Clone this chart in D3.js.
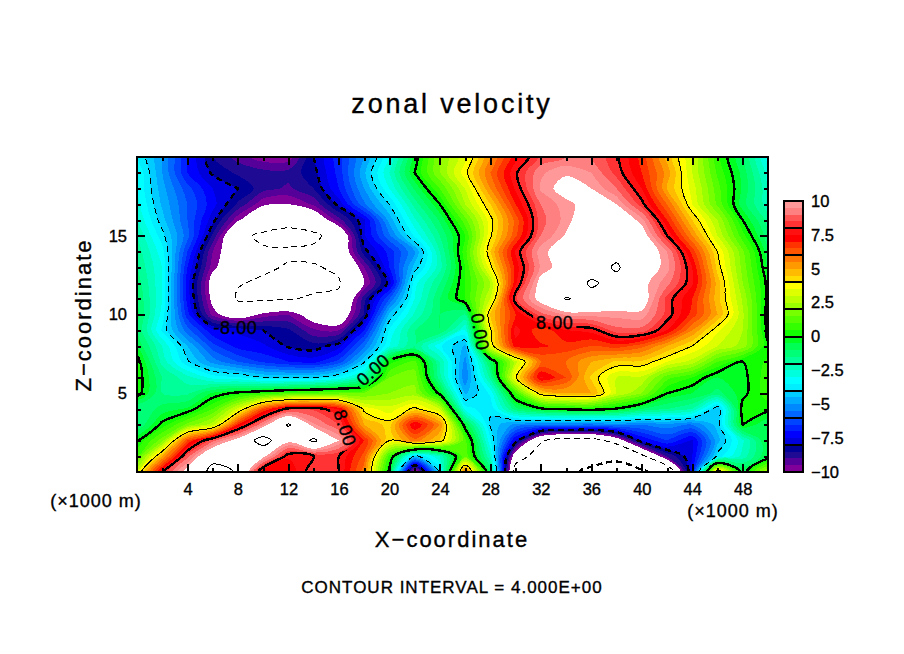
<!DOCTYPE html>
<html>
<head>
<meta charset="utf-8">
<script src="https://cdn.jsdelivr.net/npm/d3@7"></script>
<style>
  html, body {margin: 0; background: #fff;}
  text {font-family: "Liberation Sans", sans-serif; fill: #000; stroke: #000; stroke-width: 0.35;}
</style>
</head>
<body>
<svg id="chart" width="904" height="654"></svg>
<script>
// DATA ------------------------------------------------------------------------
// zonal velocity, x = 0, 2, ... 50 (x1000 m), one array per height z (x1000 m)
var xCoords = d3.range(0, 51, 2);
var uZ20 = [-3.5,-5,-7,-8.5,-9.2,-9.8,-9.8,-8,-6.7,-5,-3,-0.3,2,3.3,5.5,7.3,8.6,9,9,8.1,6.8,4.8,3,0.6,-1,-3.2];
var uZ19 = [-3,-5,-7,-8.1,-8.6,-8.8,-8.8,-8.2,-6.8,-4.6,-2.5,0,2,3.8,6,7.9,9.4,9.9,9.5,8.3,7,5.3,3,0.9,-0.7,-2.7];
var uZ18 = [-3,-4.8,-6.3,-7.5,-8,-8.8,-9.1,-8.5,-7,-5,-3,-0.9,1,3,5.5,7.6,9.6,10.4,10,9,7.5,5,3.3,1.2,-0.6,-2.4];
var uZ17 = [-2.8,-4.6,-6,-7.3,-8.6,-9.9,-10,-9.4,-7.8,-5.6,-4,-1.8,0,2.5,4.5,7,9,9.8,10.4,10,8.2,6,3.5,1.4,-0.8,-2.3];
var uZ16 = [-2.5,-4.3,-6,-7.8,-9.9,-11,-11.5,-11,-9.2,-7.6,-4.8,-2.6,-0.9,1.3,3.8,6.2,8.8,9.7,11,11,9.7,7,4.5,2.5,0,-1.7];
var uZ15 = [-2,-3.8,-5.8,-8.6,-11.6,-12.3,-12.5,-12.3,-11.3,-7.6,-5.6,-3.4,-1.5,0.5,3.9,6.4,9,10.1,11,11.5,10.6,8,5.5,3,0.7,-1.3];
var uZ14 = [-1.7,-3.3,-6.5,-9.5,-11,-11.8,-11.8,-11.7,-11.2,-8.2,-6.8,-5,-2,0.8,4.5,7.6,9.8,10.5,11,11.5,11,9.5,6.8,4,1.6,-0.8];
var uZ13 = [-1.5,-3,-7,-9.8,-11,-11.8,-12.1,-12.1,-11.8,-9.5,-7,-4.3,-2.2,0.5,3.8,7.2,9.6,10.5,11.3,12.2,10.8,9.7,7.5,4.3,1.8,-0.5];
var uZ12 = [-1.2,-3,-7.3,-10.5,-11.9,-12.2,-12.5,-12.4,-12.1,-10,-7.8,-3.2,-1.5,0.5,2.5,7.4,10.4,11,12.2,11.5,10.3,9.2,7.6,4.8,2,-0.2];
var uZ11 = [-1,-3,-7.2,-10.3,-12.2,-12.3,-12.1,-11.8,-11.8,-8.7,-6,-3,-1,0.5,3,8.4,10.4,12.1,11.5,11,10.6,8.3,7,4.7,2.4,-0.2];
var uZ10 = [-0.8,-3.2,-6.8,-9.7,-10.8,-9.8,-9.5,-10.6,-11,-8.5,-4.4,-2.4,-1,-1.5,4.6,7,8.8,9.6,9.7,9.7,9.8,8.3,6.8,5,2.6,-0.3];
var uZ9 = [-1,-3.6,-5.8,-7.4,-7.6,-8,-8.4,-9.4,-9.5,-7,-3.4,-1.5,-1,-3,3.9,7.7,6.6,7.5,7.7,8.8,8.8,7.5,5.5,3.6,2.5,-0.2];
var uZ8 = [-0.6,-2.5,-4.5,-6.3,-7.2,-7.4,-8.1,-8.3,-7.7,-5.6,-3,-1.5,-3.4,-4.6,3.5,7.3,7.1,6.8,6.5,6.8,6.2,5,4,3,2.3,0.1];
var uZ7 = [0.3,-2.2,-3.9,-5.2,-6,-6.6,-7,-7.2,-6.3,-4.1,0.3,1.2,-2,-5.2,-0.8,2.8,6,6,5,4.4,4.4,3.5,2.8,1,0,0.6];
var uZ6 = [0.4,-1.5,-2.3,-3.2,-3.4,-4,-4.1,-4,-3.4,-2,1.5,1.8,-1.8,-5.4,-1.8,3.9,7.6,6.5,4.4,3,2.9,1.2,0.5,-0.5,-0.2,0.8];
var uZ5 = [0.3,-1.5,-1.6,-0.4,0.2,0.6,1,1.2,1.4,1.5,2,2.2,-0.2,-4.6,-3.4,0.8,4.4,5,5,3,2,0,-0.5,-1.2,-0.2,0.8];
var uZ4 = [-1.5,-0.8,-0.4,1,3.2,6.5,8.3,8.4,7.5,3.8,3.2,4.2,3,-3.2,-3.9,-1.2,-0.2,0.1,0.3,-0.1,-1,-1.5,-2,-4.5,0.3,0.2];
var uZ3 = [-1.5,0.2,1.7,2.8,7,9.5,12.2,9.6,8.5,5,4.3,7.6,5.5,-0.4,-4.1,-5.2,-5.5,-5.5,-5.6,-5.3,-5.5,-5.2,-5.5,-4.3,0,-1];
var uZ2 = [0,1.8,6.5,8.8,10.5,12.8,10.3,12.3,10,7,4,5.8,4.4,1.2,-3.4,-7.6,-11.8,-13,-13,-11,-7.5,-6.5,-7.6,-4.7,-2.6,-0.4];
var uZ1 = [1,5,8.8,11.5,11.5,10.3,7.6,8,8,6.3,0.8,-4.3,-2.5,1.5,-2.5,-11,-13,-14.5,-15,-15.5,-12.5,-9,-7.5,-3.8,-2.3,-0.5];
var uZ0 = [3.2,8,10.5,12.5,11.9,7,7,8.5,8,5.7,-0.3,-10.7,-3.8,6,-1,-13,-14.5,-15.5,-16.5,-17,-16.6,-14,-7,5,-0.4,2.7];

// tick labels
var xTickLabels = [4, 8, 12, 16, 20, 24, 28, 32, 36, 40, 44, 48];
var zTickLabels = [5, 10, 15];
var barTickLabels = [10, 7.5, 5, 2.5, 0, -2.5, -5, -7.5, -10];
var contourLevels = [-16, -12, -8, -4, 0, 4, 8, 12];
var contourLabels = [
  {text: "-8.00", x: 7.8, z: 9.15, angle: 0},
  {text: "8.00", x: 33.1, z: 9.5, angle: 0},
  {text: "0.00", x: 18.7, z: 6.5, angle: -42},
  {text: "0.00", x: 27.2, z: 8.9, angle: 80},
  {text: "8.00", x: 16.5, z: 2.8, angle: 72}
];
// colours of the 0.5 wide bands, from -10 up to 10
var bandColors = [
  "#800099","#550099","#1f0a93","#000099",
  "#0000dd","#0000ff","#0022ff","#0044ff",
  "#0066ff","#0088ff","#00aaff","#00ccff",
  "#00eeff","#00ffff","#00ffdd","#00ffbb",
  "#00ff99","#00ff77","#00ff55","#00ff22",
  "#11ff00","#33ff00","#55ff00","#77ff00",
  "#99ff00","#bbff00","#ddff00","#ffff00",
  "#ffdd00","#ffbb00","#ff9900","#ff7700",
  "#ff5500","#ff3300","#ff0000","#ff1111",
  "#ff3333","#ff5555","#ff8080","#ff9999"
];

// SCALES ----------------------------------------------------------------------
var svg = d3.select("#chart");
var x = d3.scaleLinear().domain([0, 50]).range([137, 768]);
var z = d3.scaleLinear().domain([0, 20]).range([472, 157]);
var barScale = d3.scaleLinear().domain([-10, 10]).range([472, 201]);

// grid from top row to bottom row, border repeated once so the rings close outside the frame
var rows = [uZ20,uZ19,uZ18,uZ17,uZ16,uZ15,uZ14,uZ13,uZ12,uZ11,uZ10,uZ9,uZ8,uZ7,uZ6,uZ5,uZ4,uZ3,uZ2,uZ1,uZ0];
var padded = [rows[0]].concat(rows, [rows[rows.length - 1]]);
var values = [];
padded.forEach(function(r) {
  values.push(r[0]);
  r.forEach(function(v) {values.push(v)});
  values.push(r[r.length - 1]);
});
var contours = d3.contours().size([xCoords.length + 2, rows.length + 2]);

var ringLine = d3.line()
  .x(function(p) {return x((p[0] - 1.5) * 2)})
  .y(function(p) {return z(20 - (p[1] - 1.5))})
  .curve(d3.curveCatmullRomClosed.alpha(0.5));

function ringsPath(c) {
  var out = "";
  c.coordinates.forEach(function(poly) {
    poly.forEach(function(ring) {
      out += ringLine(ring.slice(0, -1));
    });
  });
  return out;
}

// CLIP AND LABEL GAPS ---------------------------------------------------------
var defs = svg.append("defs");
defs.append("clipPath").attr("id", "frame")
  .append("rect").attr("x", 137).attr("y", 157).attr("width", 631).attr("height", 315);
var gaps = defs.append("mask").attr("id", "gaps").attr("maskUnits", "userSpaceOnUse")
  .attr("x", 0).attr("y", 0).attr("width", 904).attr("height", 654);
gaps.append("rect").attr("width", 904).attr("height", 654).attr("fill", "#fff");
gaps.selectAll("rect.gap")
    .data(contourLabels)
  .enter().append("rect")
    .attr("class", "gap")
    .attr("x", function(d) {return -d.text.length * 5.4})
    .attr("y", -9)
    .attr("width", function(d) {return d.text.length * 10.8})
    .attr("height", 18)
    .attr("fill", "#000")
    .attr("transform", function(d) {return "translate(" + x(d.x) + "," + z(d.z) + ") rotate(" + d.angle + ")"});

// COLOUR FILL -----------------------------------------------------------------
var plot = svg.append("g").attr("clip-path", "url(#frame)");
var thresholds = d3.range(-10, 10.5, 0.5);
plot.selectAll("path.band")
    .data(contours.thresholds(thresholds)(values))
  .enter().append("path")
    .attr("class", "band")
    .attr("d", ringsPath)
    .attr("fill-rule", "evenodd")
    .attr("shape-rendering", "crispEdges")
    .attr("fill", function(d, i) {return i < bandColors.length ? bandColors[i] : "#fff"});

// CONTOUR LINES ---------------------------------------------------------------
plot.append("g").attr("mask", "url(#gaps)").selectAll("path.contour")
    .data(contours.thresholds(contourLevels)(values))
  .enter().append("path")
    .attr("class", "contour")
    .attr("d", ringsPath)
    .attr("fill", "none")
    .attr("stroke", "#000")
    .attr("shape-rendering", "crispEdges")
    .attr("stroke-width", function(d) {return d.value % 8 == 0 ? 2.4 : 1})
    .attr("stroke-dasharray", function(d) {return d.value < 0 ? "6,4" : null});

plot.selectAll("text.clabel")
    .data(contourLabels)
  .enter().append("text")
    .attr("class", "clabel")
    .attr("text-anchor", "middle")
    .attr("dy", "0.36em")
    .attr("font-size", 18)
    .attr("letter-spacing", 0.6)
    .attr("transform", function(d) {return "translate(" + x(d.x) + "," + z(d.z) + ") rotate(" + d.angle + ")"})
    .text(function(d) {return d.text});

// AXES ------------------------------------------------------------------------
function styleAxis(g) {
  g.select(".domain").remove();
  g.selectAll("line").attr("stroke", "#000").attr("stroke-width", 2).attr("shape-rendering", "crispEdges");
  g.selectAll("text").attr("font-size", 16.5);
}
var xMinor = d3.range(2, 50, 2);
var zMinor = d3.range(1, 20, 1);

svg.append("g").attr("transform", "translate(0,472)")
  .call(d3.axisBottom(x).tickValues(xTickLabels).tickSize(-8).tickPadding(11))
  .call(styleAxis);
svg.append("g").attr("transform", "translate(0,472)")
  .call(d3.axisBottom(x).tickValues(xMinor).tickSize(-4).tickFormat(""))
  .call(styleAxis);
svg.append("g").attr("transform", "translate(0,157)")
  .call(d3.axisTop(x).tickValues(xTickLabels).tickSize(-8).tickFormat(""))
  .call(styleAxis);
svg.append("g").attr("transform", "translate(0,157)")
  .call(d3.axisTop(x).tickValues(xMinor).tickSize(-4).tickFormat(""))
  .call(styleAxis);
svg.append("g").attr("transform", "translate(137,0)")
  .call(d3.axisLeft(z).tickValues(zTickLabels).tickSize(-8).tickPadding(10))
  .call(styleAxis);
svg.append("g").attr("transform", "translate(137,0)")
  .call(d3.axisLeft(z).tickValues(zMinor).tickSize(-4).tickFormat(""))
  .call(styleAxis);
svg.append("g").attr("transform", "translate(768,0)")
  .call(d3.axisRight(z).tickValues(zTickLabels).tickSize(-8).tickFormat(""))
  .call(styleAxis);
svg.append("g").attr("transform", "translate(768,0)")
  .call(d3.axisRight(z).tickValues(zMinor).tickSize(-4).tickFormat(""))
  .call(styleAxis);

svg.append("rect")
  .attr("x", 137).attr("y", 157).attr("width", 631).attr("height", 315)
  .attr("fill", "none").attr("stroke", "#000").attr("stroke-width", 2)
  .attr("shape-rendering", "crispEdges");

// COLOUR BAR ------------------------------------------------------------------
var bar = svg.append("g");
bar.selectAll("rect")
    .data(bandColors)
  .enter().append("rect")
    .attr("x", 784)
    .attr("width", 19)
    .attr("y", function(d, i) {return barScale(-10 + (i + 1) * 0.5)})
    .attr("height", function(d, i) {return barScale(-10 + i * 0.5) - barScale(-10 + (i + 1) * 0.5)})
    .attr("shape-rendering", "crispEdges")
    .attr("fill", function(d) {return d});
bar.selectAll("line")
    .data(d3.range(-10, 11, 2))
  .enter().append("line")
    .attr("x1", 784).attr("x2", 803)
    .attr("y1", function(d) {return barScale(d)})
    .attr("y2", function(d) {return barScale(d)})
    .attr("stroke", "#000").attr("stroke-width", 2)
    .attr("shape-rendering", "crispEdges");
bar.append("rect")
  .attr("x", 784).attr("y", 201).attr("width", 19).attr("height", 271)
  .attr("fill", "none").attr("stroke", "#000").attr("stroke-width", 2)
  .attr("shape-rendering", "crispEdges");
svg.append("g").attr("transform", "translate(803,0)")
  .call(d3.axisRight(barScale).tickValues(barTickLabels).tickSize(0).tickPadding(8)
    .tickFormat(function(d) {return String(d).replace("-", "\u2212")}))
  .call(function(g) {
    g.select(".domain").remove();
    g.selectAll("text").attr("font-size", 16.5);
  });

// TITLES ----------------------------------------------------------------------
svg.append("text").attr("x", 452).attr("y", 113).attr("text-anchor", "middle")
  .attr("font-size", 27).attr("letter-spacing", 2.8).text("zonal velocity");
svg.append("text").attr("x", 452).attr("y", 547).attr("text-anchor", "middle")
  .attr("font-size", 22).attr("letter-spacing", 2).text("X\u2212coordinate");
svg.append("text").attr("transform", "translate(91,315) rotate(-90)").attr("text-anchor", "middle")
  .attr("font-size", 22).attr("letter-spacing", 2).text("Z\u2212coordinate");
svg.append("text").attr("x", 452).attr("y", 593).attr("text-anchor", "middle")
  .attr("font-size", 17).attr("letter-spacing", 1).text("CONTOUR INTERVAL = 4.000E+00");
svg.append("text").attr("x", 96).attr("y", 507).attr("text-anchor", "middle")
  .attr("font-size", 18).attr("letter-spacing", 1).text("(\u00d71000 m)");
svg.append("text").attr("x", 733).attr("y", 517).attr("text-anchor", "middle")
  .attr("font-size", 18).attr("letter-spacing", 1).text("(\u00d71000 m)");
</script>
</body>
</html>
